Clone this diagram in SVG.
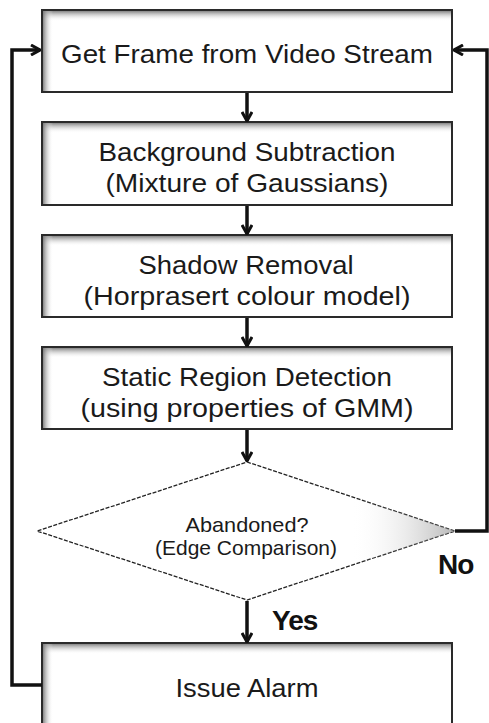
<svg xmlns="http://www.w3.org/2000/svg" width="489" height="723" viewBox="0 0 489 723">
<defs>
<style>
.box{fill:#fff;stroke:#2a2a2a;stroke-width:2}
.t{font-family:"Liberation Sans",Arial,sans-serif;font-size:26px;fill:#1a1a1a;text-anchor:middle}
.ts{font-family:"Liberation Sans",Arial,sans-serif;font-size:21px;fill:#1a1a1a;text-anchor:middle}
.lbl{font-family:"Liberation Sans",Arial,sans-serif;font-size:28px;font-weight:bold;fill:#111;letter-spacing:-1px}
.c{fill:none;stroke:#111;stroke-width:3.5}
.dia{fill:#fff;stroke:#222;stroke-width:1.3;stroke-dasharray:4 1.5}
</style>
<marker id="ah" viewBox="0 0 12 12" refX="11" refY="6" markerWidth="12" markerHeight="12" markerUnits="userSpaceOnUse" orient="auto">
<path d="M2,1 L11,6 L2,11" fill="none" stroke="#111" stroke-width="3"/>
</marker>
<linearGradient id="gt" x1="0" y1="0" x2="0" y2="1"><stop offset="0" stop-color="#777" stop-opacity="0.9"/><stop offset="1" stop-color="#fff" stop-opacity="0"/></linearGradient>
<linearGradient id="gl" x1="0" y1="0" x2="1" y2="0"><stop offset="0" stop-color="#777" stop-opacity="0.9"/><stop offset="1" stop-color="#fff" stop-opacity="0"/></linearGradient>
<linearGradient id="gd" x1="0" y1="0" x2="1" y2="0"><stop offset="0.75" stop-color="#fff" stop-opacity="0"/><stop offset="1" stop-color="#999" stop-opacity="0.7"/></linearGradient>
</defs>
<rect width="489" height="723" fill="#fff"/>
<g id="n1">
<rect class="box" x="42" y="10" width="410" height="82"/>
<rect x="43" y="11" width="408" height="10" fill="url(#gt)"/>
<rect x="43" y="11" width="10" height="80" fill="url(#gl)"/>
<text class="t" x="247" y="63" textLength="372" lengthAdjust="spacingAndGlyphs">Get Frame from Video Stream</text>
</g>
<g id="n2">
<rect class="box" x="42" y="122" width="410" height="83"/>
<rect x="43" y="123" width="408" height="10" fill="url(#gt)"/>
<rect x="43" y="123" width="10" height="81" fill="url(#gl)"/>
<text class="t" x="247" y="161" textLength="297" lengthAdjust="spacingAndGlyphs">Background Subtraction</text>
<text class="t" x="247" y="192" textLength="283" lengthAdjust="spacingAndGlyphs">(Mixture of Gaussians)</text>
</g>
<g id="n3">
<rect class="box" x="42" y="235" width="410" height="82"/>
<rect x="43" y="236" width="408" height="10" fill="url(#gt)"/>
<rect x="43" y="236" width="10" height="80" fill="url(#gl)"/>
<text class="t" x="246" y="274" textLength="215" lengthAdjust="spacingAndGlyphs">Shadow Removal</text>
<text class="t" x="247" y="305" textLength="327" lengthAdjust="spacingAndGlyphs">(Horprasert colour model)</text>
</g>
<g id="n4">
<rect class="box" x="42" y="347" width="410" height="82"/>
<rect x="43" y="348" width="408" height="10" fill="url(#gt)"/>
<rect x="43" y="348" width="10" height="80" fill="url(#gl)"/>
<text class="t" x="247" y="386" textLength="290" lengthAdjust="spacingAndGlyphs">Static Region Detection</text>
<text class="t" x="247" y="417" textLength="333" lengthAdjust="spacingAndGlyphs">(using properties of GMM)</text>
</g>
<g id="n5">
<polygon class="dia" points="247,462 455,531 247,600 37,531"/>
<polygon points="247,462 455,531 247,600 37,531" fill="url(#gd)"/>
<text class="ts" x="247" y="532" textLength="123" lengthAdjust="spacingAndGlyphs">Abandoned?</text>
<text class="ts" x="246" y="555" textLength="182" lengthAdjust="spacingAndGlyphs">(Edge Comparison)</text>
</g>
<g id="n6">
<rect class="box" x="42" y="643" width="410" height="90"/>
<rect x="43" y="644" width="408" height="10" fill="url(#gt)"/>
<rect x="43" y="644" width="10" height="80" fill="url(#gl)"/>
<text class="t" x="247" y="697" textLength="143" lengthAdjust="spacingAndGlyphs">Issue Alarm</text>
</g>
<g id="connectors">
<line class="c" x1="247" y1="93" x2="247" y2="121" marker-end="url(#ah)"/>
<line class="c" x1="247" y1="206" x2="247" y2="234" marker-end="url(#ah)"/>
<line class="c" x1="247" y1="318" x2="247" y2="346" marker-end="url(#ah)"/>
<line class="c" x1="247" y1="430" x2="247" y2="461" marker-end="url(#ah)"/>
<line class="c" x1="247" y1="601" x2="247" y2="642" marker-end="url(#ah)"/>
<polyline class="c" points="455,531 487,531 487,50 454,50" marker-end="url(#ah)"/>
<polyline class="c" points="42,685 12,685 12,50 40,50" marker-end="url(#ah)"/>
<text class="lbl" x="438" y="574">No</text>
<text class="lbl" x="272" y="630">Yes</text>
</g>
</svg>
